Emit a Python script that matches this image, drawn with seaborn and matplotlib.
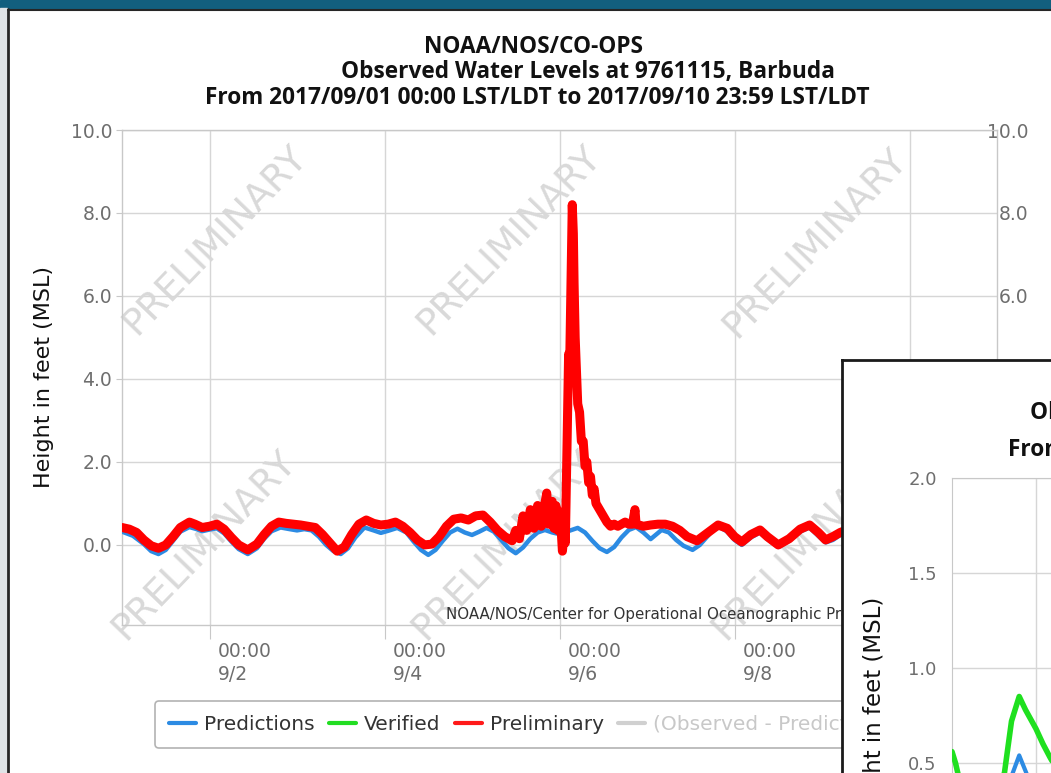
import matplotlib
matplotlib.use("Agg")
import matplotlib.pyplot as plt
import matplotlib.transforms as mtrans
import seaborn as sns
from matplotlib.lines import Line2D
from matplotlib.patches import Rectangle

W, H = 1051, 773

# hours since 2017/09/01 00:00 LST
pred_hours = [0, 3, 6, 8, 10, 12, 14, 16, 18.5, 20.5,
              22, 24, 26, 28, 30, 32, 34.5, 37, 39, 41,
              43.5, 46, 48, 50, 52, 54, 56, 58, 60, 62,
              64, 66.5, 69, 71, 73, 75.5, 78, 80, 82, 84,
              86, 88, 90, 92, 94, 96, 98, 100, 102, 104,
              106, 108, 110, 112, 114, 116, 118, 120, 122, 125,
              127, 129, 131, 133, 135, 137, 139, 141, 143, 145,
              146.5, 148, 150, 152, 154, 156.5, 158.5, 160.5, 162, 164,
              166, 168, 170, 172.5, 175, 177, 180, 183, 186, 188.6,
              191, 193, 195, 197, 200, 204]
pred_feet = [0.32, 0.22, 0.02, -0.15, -0.22, -0.12, 0.10, 0.32, 0.43, 0.38,
             0.33, 0.37, 0.40, 0.28, 0.08, -0.10, -0.22, -0.08, 0.15, 0.33,
             0.42, 0.38, 0.35, 0.38, 0.35, 0.20, 0.00, -0.15, -0.22, -0.08,
             0.18, 0.42, 0.35, 0.29, 0.34, 0.41, 0.30, 0.08, -0.12, -0.24,
             -0.12, 0.10, 0.30, 0.39, 0.30, 0.24, 0.32, 0.41, 0.32, 0.12,
             -0.08, -0.20, -0.06, 0.15, 0.30, 0.36, 0.30, 0.26, 0.32, 0.41,
             0.30, 0.10, -0.08, -0.17, -0.05, 0.18, 0.36, 0.43, 0.30, 0.14,
             0.25, 0.36, 0.30, 0.12, -0.02, -0.12, 0.00, 0.20, 0.35, 0.43,
             0.32, 0.12, 0.00, 0.18, 0.30, 0.14, -0.05, 0.10, 0.32, 0.42,
             0.22, 0.06, 0.12, 0.24, 0.32, 0.25]

prelim_hours = [0, 2, 4, 6, 8, 10, 12, 14, 16, 18.5,
                20, 22, 24, 26, 28, 30, 32, 34.5, 37, 39,
                41, 43, 45, 47, 49, 51, 53, 55, 57, 59,
                61, 63, 65, 67, 69, 71, 73, 75, 77, 79,
                81, 83, 85, 87, 89, 91, 93, 95, 97, 99,
                101, 103, 105, 107, 108, 109, 110, 111, 112, 113,
                114, 115, 116, 116.5, 117, 118, 118.5, 119, 119.5, 120,
                120.5, 120.8, 121.3, 121.6, 122.5, 122.8, 123.2, 123.5, 123.8, 124.0,
                124.3, 124.6, 125, 125.5, 126, 126.5, 127, 127.5, 128, 128.5,
                129, 129.5, 130, 131, 132, 133, 134, 135, 136, 137,
                138, 139, 140, 140.7, 141, 143, 145, 147, 149, 151,
                153, 155, 157.7, 160, 163.5, 166, 168, 170, 172.5, 175,
                177, 180, 183, 186, 188.6, 191, 193, 195, 197, 200,
                204]
prelim_feet = [0.42, 0.38, 0.30, 0.12, -0.02, -0.08, 0.00, 0.20, 0.42, 0.55,
               0.50, 0.42, 0.45, 0.50, 0.38, 0.18, 0.00, -0.12, 0.02, 0.25,
               0.45, 0.55, 0.52, 0.50, 0.48, 0.45, 0.42, 0.25, 0.05, -0.15,
               -0.05, 0.25, 0.50, 0.60, 0.52, 0.48, 0.50, 0.55, 0.45, 0.30,
               0.12, 0.00, 0.02, 0.20, 0.45, 0.62, 0.65, 0.60, 0.70, 0.72,
               0.55, 0.35, 0.20, 0.10, 0.35, 0.15, 0.70, 0.35, 0.85, 0.40,
               0.95, 0.45, 1.00, 1.25, 0.50, 1.05, 0.40, 0.95, 0.35, 0.80,
               0.30, -0.15, 0.30, 0.05, 4.60, 4.40, 6.50, 8.20, 7.50, 6.30,
               5.00, 4.30, 3.40, 3.20, 2.50, 2.50, 1.90, 2.00, 1.50, 1.65,
               1.20, 1.35, 1.00, 0.85, 0.70, 0.55, 0.45, 0.50, 0.45, 0.50,
               0.55, 0.50, 0.50, 0.85, 0.50, 0.45, 0.48, 0.50, 0.50, 0.45,
               0.35, 0.20, 0.10, 0.25, 0.48, 0.40, 0.20, 0.07, 0.25, 0.36,
               0.20, 0.00, 0.15, 0.38, 0.48, 0.30, 0.12, 0.20, 0.30, 0.40,
               0.35]

# second (overlapping) chart, only its corner is visible
inset_green_hours = [0, 0.5, 1, 2, 4, 6, 7.5, 8.5, 9.6, 10.5, 12, 13, 14, 16]
inset_green_feet = [0.56, 0.50, 0.42, 0.30, 0.20, 0.25, 0.45, 0.72, 0.85, 0.78, 0.68, 0.60, 0.53, 0.40]
inset_blue_hours = [0, 2, 4, 6, 7.5, 8.6, 9.6, 10.7, 12, 14, 16]
inset_blue_feet = [0.30, 0.10, 0.00, 0.05, 0.25, 0.44, 0.54, 0.44, 0.30, 0.15, 0.05]

xtick_hours = [24, 72, 120, 168, 216]
xtick_labels = ["00:00\n9/2", "00:00\n9/4", "00:00\n9/6", "00:00\n9/8", "00:00\n9/10"]
ytick_values = [0, 2, 4, 6, 8, 10]
inset_ytick_values = [0.5, 1.0, 1.5, 2.0]

legend_names = ["Predictions", "Verified", "Preliminary", "(Observed - Predicted)"]
legend_colors = ["#2c8be3", "#22dd22", "#ff1a1a", "#d0d0d0"]

title_lines = ["NOAA/NOS/CO-OPS",
               "Observed Water Levels at 9761115, Barbuda",
               "From 2017/09/01 00:00 LST/LDT to 2017/09/10 23:59 LST/LDT"]
credit = "NOAA/NOS/Center for Operational Oceanographic Products and Services"

BLUE, GREEN, RED = "#2c8be3", "#1fe01f", "#ff0000"
GRID = "#d6d6d6"
TICK = "#6e6e6e"


def box(l, t, r, b):
    return [l / W, 1 - b / H, (r - l) / W, (b - t) / H]


sns.set_style("white")
plt.rcParams["font.family"] = ["DejaVu Sans"]

fig = plt.figure(figsize=(W / 100, H / 100), dpi=100)
fig.patch.set_facecolor("white")

# screenshot frame
fig.add_artist(Rectangle((0, 1 - 8 / H), 1, 8 / H, transform=fig.transFigure,
                         color="#125f7e", zorder=0))
fig.add_artist(Rectangle((0, 0), 7 / W, 1 - 8 / H, transform=fig.transFigure,
                         color="#dfe3e6", zorder=0))
fig.add_artist(Line2D([8 / W, 8 / W], [0, 1 - 9 / H], transform=fig.transFigure,
                      color="#262626", lw=2))
fig.add_artist(Line2D([8 / W, 1], [1 - 10 / H, 1 - 10 / H], transform=fig.transFigure,
                      color="#262626", lw=1.5))

# ---- main chart ----
ax = fig.add_axes(box(122, 130, 997, 625))
for xf, yf in [(0.106, 0.778), (0.443, 0.778), (0.792, 0.772),
               (0.094, 0.162), (0.437, 0.162), (0.78, 0.162)]:
    t = ax.text(xf, yf, "PRELIMINARY", transform=ax.transAxes, rotation=46,
                ha="center", va="center", fontsize=27, color="#d9d9d9", zorder=1)
    t.set_clip_box(ax.bbox)

sns.lineplot(x=pred_hours, y=pred_feet, ax=ax, color=BLUE, lw=3.2, zorder=3)
sns.lineplot(x=prelim_hours, y=prelim_feet, ax=ax, color=RED, lw=6.5, zorder=4)

ax.set_xlim(0, 240)
ax.set_ylim(-1.93, 10)
ax.set_xticks(xtick_hours)
ax.set_xticklabels(xtick_labels, linespacing=1.3)
ax.set_yticks(ytick_values)
ax.set_yticklabels([f"{v:.1f}" for v in ytick_values])
ax.grid(True, color=GRID, lw=1)
ax.set_axisbelow(True)
for s in ax.spines.values():
    s.set_color("#c8c8c8")
    s.set_linewidth(1)
ax.tick_params(axis="y", left=True, right=False, labelright=True, length=4,
               color="#c8c8c8", labelcolor=TICK, labelsize=13.5, pad=3)
ax.tick_params(axis="x", bottom=True, length=10, color="#c8c8c8",
               labelcolor=TICK, labelsize=13.5, pad=2)
for tk in ax.yaxis.get_major_ticks():
    tk.label2.set_ha("right")
    tk.label2.set_transform(tk.label2.get_transform() +
                            mtrans.ScaledTranslation(22 / 100, 0, fig.dpi_scale_trans))
for lbl in ax.get_xticklabels():
    lbl.set_ha("left")
    lbl.set_transform(lbl.get_transform() +
                      mtrans.ScaledTranslation(8 / 100, 0, fig.dpi_scale_trans))
ax.set_xlabel("")
ax.set_ylabel("Height in feet (MSL)", fontsize=16, color="#111111", labelpad=12)

ax.text(0.995, 0.022, credit, transform=ax.transAxes, ha="right", va="center",
        fontsize=10.8, color="#333333", zorder=5)

for line, cx, cy in zip(title_lines, [533, 588, 537], [47, 72, 98]):
    fig.text(cx / W, 1 - cy / H, line, ha="center", va="center",
             fontsize=16.3, fontweight="bold", family="Open Sans", color="#111111")

handles = [Line2D([], [], color=c, lw=3) for c in legend_colors]
leg = ax.legend(handles, legend_names, ncol=4, loc="lower left",
                bbox_to_anchor=(155 / W, 1 - 748 / H), bbox_transform=fig.transFigure,
                frameon=True, fancybox=True, fontsize=14.5, handlelength=1.35,
                handletextpad=0.4, columnspacing=0.7, borderpad=0.7, borderaxespad=0)
leg.get_frame().set_edgecolor("#a0a0a0")
leg.get_frame().set_linewidth(1.2)
for t, c in zip(leg.get_texts(), ["#333333", "#333333", "#333333", "#c8c8c8"]):
    t.set_color(c)

# ---- overlapping second chart ----
panel = fig.add_axes(box(842, 360, 1400, 1100), zorder=5)
panel.set_facecolor("white")
panel.set_xticks([])
panel.set_yticks([])
for s in panel.spines.values():
    s.set_color("#1a1a1a")
    s.set_linewidth(2)

iax = fig.add_axes(box(952, 478, 1288, 953), zorder=6)
iax.set_facecolor("white")
sns.lineplot(x=inset_blue_hours, y=inset_blue_feet, ax=iax, color=BLUE, lw=3, zorder=3)
sns.lineplot(x=inset_green_hours, y=inset_green_feet, ax=iax, color=GREEN, lw=4, zorder=4)
iax.set_xlim(0, 48)
iax.set_ylim(-0.5, 2.0)
iax.set_xticks([12, 24, 36])
iax.set_xticklabels([])
iax.set_yticks(inset_ytick_values)
iax.set_yticklabels([f"{v:.1f}" for v in inset_ytick_values])
iax.grid(True, color=GRID, lw=1)
iax.set_axisbelow(True)
for s in iax.spines.values():
    s.set_color("#c8c8c8")
iax.tick_params(axis="y", length=0, labelcolor=TICK, labelsize=13, pad=11)
iax.tick_params(axis="x", length=0)
iax.set_xlabel("")
iax.set_ylabel("")

fig.text(874 / W, 1 - 597 / H, "Height in feet (MSL)", rotation=90, ha="center",
         va="top", fontsize=16.5, color="#111111", zorder=7)
fig.text(1030 / W, 1 - 413 / H, title_lines[1], ha="left", va="center",
         fontsize=16.3, fontweight="bold", family="Open Sans", color="#111111", zorder=7)
fig.text(1008 / W, 1 - 450 / H, "From 2017/09/05 00:00 LST/LDT to 2017/09/07 23:59 LST/LDT",
         ha="left", va="center", fontsize=16.3, fontweight="bold", family="Open Sans",
         color="#111111", zorder=7)

fig.savefig("out.png", dpi=100)
